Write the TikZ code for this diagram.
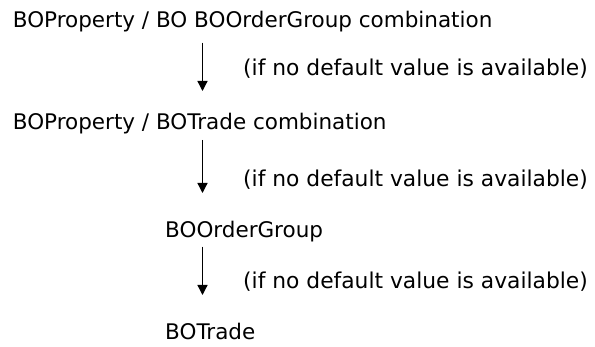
\documentclass[tikz,border=0pt]{standalone}
\usepackage{fontspec}
\setmainfont{DejaVu Sans}
\usetikzlibrary{arrows.meta}
\begin{document}
\begin{tikzpicture}[x=1pt,y=1pt,
  txt/.style={inner sep=0pt,anchor=base west,font=\fontsize{21.5}{26}\selectfont},
  lbl/.style={inner sep=0pt,anchor=base west,font=\fontsize{21.8}{26}\selectfont},
  flow/.style={line width=1.3pt,-{Triangle[width=10pt,length=10pt]}}]
\useasboundingbox (0,0) rectangle (595,347);
\node[txt] (l1) at (12.7,319) {BOProperty / BO BOOrderGroup combination};
\node[txt] (l2) at (12.7,217) {BOProperty / BOTrade combination};
\node[txt] (l3) at (165,109.7) {BOOrderGroup};
\node[txt] (l4) at (165,7) {BOTrade};
\node[lbl] (c1) at (243,271) {(if no default value is available)};
\node[lbl] (c2) at (243,160) {(if no default value is available)};
\node[lbl] (c3) at (243,58) {(if no default value is available)};
\coordinate (a1s) at (202.5,304.3);
\coordinate (a1e) at (202.5,256);
\coordinate (a2s) at (202.5,207);
\coordinate (a2e) at (202.5,154);
\coordinate (a3s) at (202.5,100.3);
\coordinate (a3e) at (202.5,52);
\draw[flow] (a1s) -- (a1e);
\draw[flow] (a2s) -- (a2e);
\draw[flow] (a3s) -- (a3e);
\end{tikzpicture}
\end{document}
